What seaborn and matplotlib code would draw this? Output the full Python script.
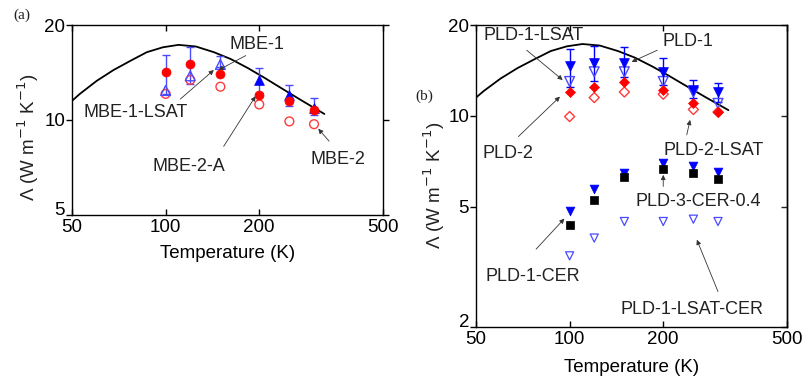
import numpy as np
import pandas as pd
import matplotlib
matplotlib.use("Agg")
import matplotlib.pyplot as plt
from matplotlib.ticker import FixedLocator, NullLocator, FixedFormatter
import seaborn as sns

# ---- data -------------------------------------------------------------
temps = [100, 120, 150, 200, 250, 300]

# model curve (same in both panels)
curve_T = [50, 53, 60, 68, 78, 87, 98, 110, 125, 143, 162, 184, 208, 236, 275, 324]
curve_k = [11.5, 12.1, 13.3, 14.4, 15.5, 16.4, 17.0, 17.3, 17.1, 16.4, 15.6, 14.6, 13.6, 12.6, 11.5, 10.45]

# panel (a): MBE films
mbe_T_open_tri = [100, 120, 150]
mbe_open_tri = [12.4, 13.8, 15.0]
mbe_T_fill_tri = [200, 250, 300]
mbe_fill_tri = [13.4, 12.0, 10.95]
mbe_fill_circ = [14.2, 15.0, 14.0, 12.0, 11.45, 10.75]
mbe_open_circ = [12.1, 13.4, 12.75, 11.2, 9.9, 9.7]
mbe_err_lo = [12.1, 13.0, 14.7, 12.2, 11.1, 10.4]
mbe_err_hi = [16.1, 17.0, 15.9, 14.6, 12.9, 11.7]

# panel (b): PLD films
pld1 = [14.6, 15.0, 15.0, 14.0, 12.2, 12.0]
pld1_lsat = [13.0, 14.0, 14.0, 13.0, 12.0, 11.0]
pld2 = [12.0, 12.5, 13.0, 12.2, 11.0, 10.3]
pld2_lsat = [9.95, 11.5, 12.0, 11.8, 10.5, 10.3]
pld_err_lo = [12.5, 13.05, 13.5, 12.7, 11.45, 11.15]
pld_err_hi = [16.6, 17.05, 16.95, 15.5, 13.1, 12.9]
pld1_cer = [4.85, 5.72, 6.46, 6.97, 6.8, 6.54]
pld3_cer04 = [4.36, 5.25, 6.27, 6.66, 6.46, 6.17]
pld1_lsat_cer = [3.44, 3.94, 4.47, 4.47, 4.55, 4.47]

x_ticks = [50, 100, 200, 500]
x_tick_labels = ["50", "100", "200", "500"]
ya_ticks = [5, 10, 20]
yb_ticks = [2, 5, 10, 20]

# ---- style ------------------------------------------------------------
sns.set_theme(style="white")
plt.rcParams["font.family"] = ["Liberation Sans", "DejaVu Sans"]
plt.rcParams["axes.linewidth"] = 1.0
plt.rcParams["axes.edgecolor"] = "black"

FS = 13.5
AFS = 13

fig = plt.figure(figsize=(8.04, 3.78), dpi=100)
axA = fig.add_axes([72 / 804, 1 - 215 / 378, 311 / 804, 190 / 378])
axB = fig.add_axes([476 / 804, 1 - 327 / 378, 311 / 804, 302 / 378])

RED = "#ff0000"
BLUE = "#0000ff"
LBLUE = "#4a4aff"


def scatter(ax, x, y, marker, size, face, edge, lw=1.0, z=3):
    df = pd.DataFrame({"T": x, "k": y})
    sns.scatterplot(data=df, x="T", y="k", ax=ax, marker=marker, s=size,
                    facecolors=face, edgecolor=edge, linewidth=lw, zorder=z,
                    legend=False)


def curve(ax):
    df = pd.DataFrame({"T": curve_T, "k": curve_k})
    sns.lineplot(data=df, x="T", y="k", ax=ax, color="black", lw=1.3,
                 sort=False, estimator=None, zorder=2)


def errbars(ax, x, center, lo, hi, color):
    c = np.array(center)
    ax.errorbar(x, c, yerr=[c - np.array(lo), np.array(hi) - c], fmt="none",
                ecolor=color, elinewidth=1.0, capsize=3, capthick=1.0, zorder=2.5)


def arrow(ax, start, end):
    ax.annotate("", xy=end, xytext=start,
                arrowprops=dict(arrowstyle="-|>", color="#333333", lw=0.6,
                                mutation_scale=7, shrinkA=0, shrinkB=0))


def setup(ax, ylo, yhi, yticks):
    ax.set_xscale("log")
    ax.set_yscale("log")
    ax.set_xlim(50, 500)
    ax.set_ylim(ylo, yhi)
    ax.xaxis.set_major_locator(FixedLocator(x_ticks))
    ax.xaxis.set_major_formatter(FixedFormatter(x_tick_labels))
    ax.xaxis.set_minor_locator(NullLocator())
    ax.yaxis.set_major_locator(FixedLocator(yticks))
    # lowest y label is drawn separately, nudged up off the x labels
    ax.yaxis.set_major_formatter(FixedFormatter([""] + [str(t) for t in yticks[1:]]))
    ax.yaxis.set_minor_locator(NullLocator())
    ax.annotate(str(yticks[0]), xy=(0, yticks[0]),
                xycoords=("axes fraction", "data"), xytext=(-5, 3),
                textcoords="offset points", ha="right", va="center",
                fontsize=FS, color="black")
    ax.tick_params(axis="x", direction="in", length=4, width=1, top=True,
                   bottom=True, labelsize=FS, pad=3, colors="black")
    ax.tick_params(axis="y", direction="out", length=4, width=1, left=True,
                   labelsize=FS, pad=1, colors="black")
    for s in ax.spines.values():
        s.set_visible(True)
        s.set_color("black")
        s.set_linewidth(1.0)
    ax.set_xlabel("Temperature (K)", fontsize=FS, color="black")
    ax.set_ylabel("\u039b (W m$^{-1}$ K$^{-1}$)", fontsize=FS, color="#222222")


# ---- panel (a) --------------------------------------------------------
setup(axA, 5, 20, ya_ticks)
axA.tick_params(axis="y", right=True)
curve(axA)
errbars(axA, temps, mbe_open_tri + mbe_fill_tri, mbe_err_lo, mbe_err_hi, LBLUE)
scatter(axA, temps, mbe_open_circ, "o", 40, "none", "#ff3b3b", lw=1.0)
scatter(axA, mbe_T_open_tri, mbe_open_tri, "^", 50, "none", LBLUE, lw=1.0)
scatter(axA, mbe_T_fill_tri, mbe_fill_tri, "^", 50, BLUE, BLUE, lw=0.5)
scatter(axA, temps, mbe_fill_circ, "o", 42, RED, RED, lw=0.5, z=4)

axA.text(197, 17.3, "MBE-1", fontsize=AFS, ha="center", va="center", color="#222222")
arrow(axA, (181, 16.0), (148, 14.4))
axA.text(79.8, 10.55, "MBE-1-LSAT", fontsize=AFS, ha="center", va="center", color="#222222")
arrow(axA, (111.5, 11.65), (142.9, 14.4))
axA.text(118.6, 7.12, "MBE-2-A", fontsize=AFS, ha="center", va="center", color="#222222")
arrow(axA, (153.7, 8.25), (194.7, 11.9))
axA.text(357, 7.49, "MBE-2", fontsize=AFS, ha="center", va="center", color="#222222")
arrow(axA, (335.5, 8.57), (309.6, 9.38))

axA.xaxis.set_label_coords(0.5, -0.16)
axA.yaxis.set_label_coords(-0.10, 0.41)

# ---- panel (b) --------------------------------------------------------
setup(axB, 2, 20, yb_ticks)
secB = axB.secondary_yaxis("right")
secB.yaxis.set_major_locator(FixedLocator(yb_ticks))
secB.yaxis.set_minor_locator(NullLocator())
secB.tick_params(direction="in", length=4, width=1, labelright=False)
curve(axB)
errbars(axB, temps, pld1, pld_err_lo, pld_err_hi, BLUE)
scatter(axB, temps, pld2_lsat, "D", 26, "none", "#ff3b3b", lw=1.0)
scatter(axB, temps, pld1_lsat, "v", 50, "none", LBLUE, lw=1.0)
scatter(axB, temps, pld1, "v", 50, BLUE, BLUE, lw=0.5)
scatter(axB, temps, pld2, "D", 26, RED, RED, lw=0.5, z=4)
scatter(axB, temps, pld1_lsat_cer, "v", 34, "none", LBLUE, lw=0.9)
scatter(axB, temps, pld1_cer, "v", 40, BLUE, BLUE, lw=0.5)
scatter(axB, temps, pld3_cer04, "s", 36, "black", "black", lw=0.5, z=4)

axB.text(76.4, 18.5, "PLD-1-LSAT", fontsize=AFS, ha="center", va="center", color="#222222")
arrow(axB, (72.8, 16.5), (95, 13.15))
axB.text(241, 17.6, "PLD-1", fontsize=AFS, ha="center", va="center", color="#222222")
arrow(axB, (191.4, 16.5), (158.3, 15.1))
axB.text(63.5, 7.52, "PLD-2", fontsize=AFS, ha="center", va="center", color="#222222")
arrow(axB, (68.4, 8.54), (93.1, 11.58))
axB.text(289.6, 7.71, "PLD-2-LSAT", fontsize=AFS, ha="center", va="center", color="#222222")
arrow(axB, (238, 8.65), (244, 9.7))
axB.text(259, 5.21, "PLD-3-CER-0.4", fontsize=AFS, ha="center", va="center", color="#222222")
arrow(axB, (200, 5.84), (200, 6.38))
axB.text(76.4, 2.94, "PLD-1-CER", fontsize=AFS, ha="center", va="center", color="#222222")
arrow(axB, (78, 3.62), (96.2, 4.57))
axB.text(247, 2.28, "PLD-1-LSAT-CER", fontsize=AFS, ha="center", va="center", color="#222222")
arrow(axB, (300, 2.62), (256.5, 3.89))

axB.xaxis.set_label_coords(0.5, -0.105)
axB.yaxis.set_label_coords(-0.093, 0.47)

# panel tags
fig.text(21.7 / 804, 1 - 15 / 378, "(a)", fontsize=11, family="Liberation Serif",
         ha="center", va="center", color="#222222")
fig.text(424 / 804, 1 - 96 / 378, "(b)", fontsize=11, family="Liberation Serif",
         ha="center", va="center", color="#222222")

fig.savefig("out.png", dpi=100)
